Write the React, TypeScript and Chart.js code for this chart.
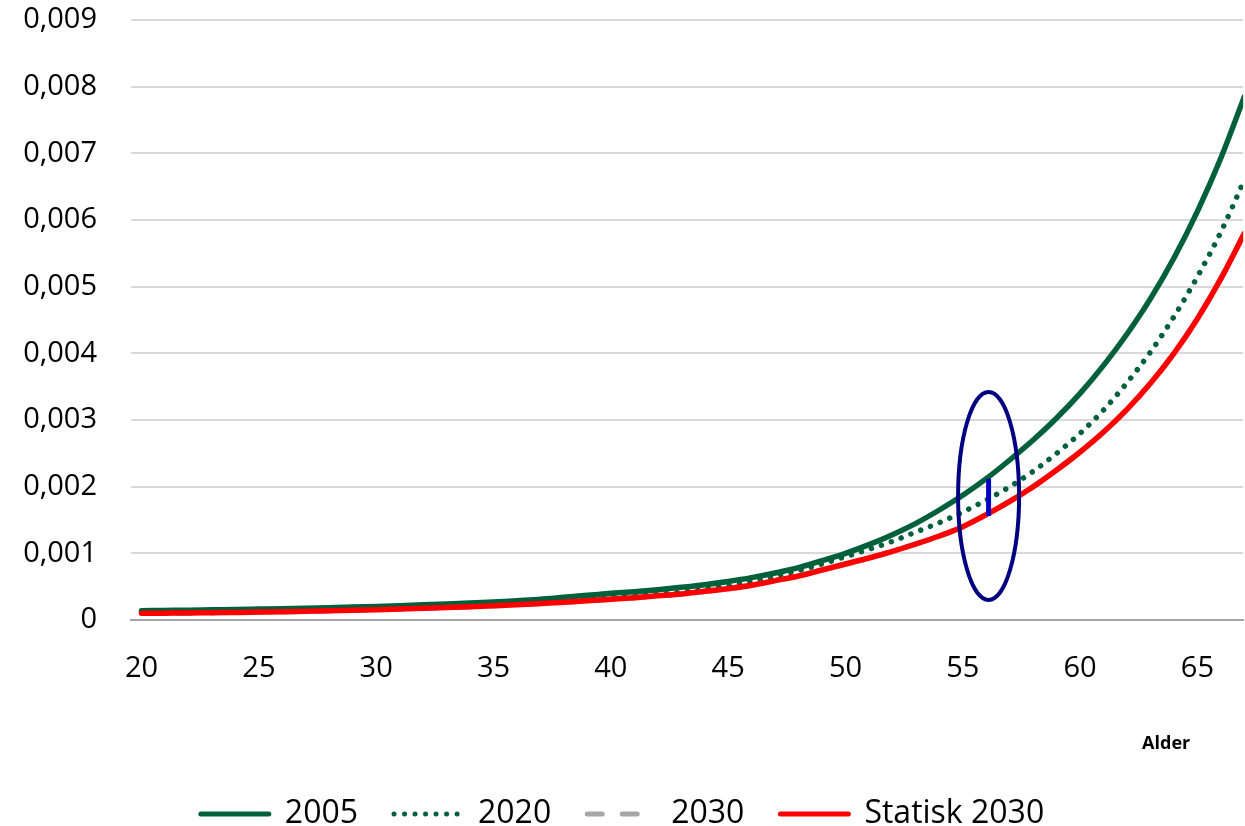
import React, { useEffect, useRef } from 'react';
import { Chart, registerables } from 'chart.js';

Chart.register(...registerables);

// ---------- data ----------
const ages = [
  20, 21, 22, 23, 24, 25, 26, 27, 28, 29,
  30, 31, 32, 33, 34, 35, 36, 37, 38, 39,
  40, 41, 42, 43, 44, 45, 46, 47, 48, 49,
  50, 51, 52, 53, 54, 55, 56, 57, 58, 59,
  60, 61, 62, 63, 64, 65, 66, 67,
];

const series2005 = [
  0.00014, 0.000144, 0.000148, 0.000153, 0.000158, 0.000164, 0.00017, 0.000177, 0.000185, 0.000194,
  0.000204, 0.000215, 0.000227, 0.00024, 0.000254, 0.00027, 0.00029, 0.00031, 0.00034, 0.00037,
  0.0004, 0.000425, 0.000455, 0.00049, 0.00053, 0.000578, 0.000635, 0.000705, 0.000785, 0.00089,
  0.001, 0.00113, 0.00128, 0.00145, 0.00165, 0.00187, 0.00212, 0.0024, 0.0027, 0.00303,
  0.0034, 0.00382, 0.00429, 0.00482, 0.00543, 0.00613, 0.00693, 0.00785,
];

const series2020 = [
  0.00012, 0.000125, 0.00013, 0.000135, 0.00014, 0.000146, 0.000152, 0.000159, 0.000166, 0.000174,
  0.000183, 0.000193, 0.000204, 0.000216, 0.000229, 0.000243, 0.00026, 0.00028, 0.0003, 0.00032,
  0.00034, 0.000365, 0.00039, 0.00042, 0.000465, 0.00052, 0.00058, 0.00066, 0.00074, 0.00084,
  0.00095, 0.00106, 0.00118, 0.00132, 0.00146, 0.00162, 0.0018, 0.002, 0.00223, 0.0025,
  0.0028, 0.00315, 0.00356, 0.00402, 0.00455, 0.00515, 0.00582, 0.0066,
];

const series2030 = [
  0.0001, 0.000103, 0.000106, 0.00011, 0.000114, 0.000119, 0.000124, 0.00013, 0.000137, 0.000145,
  0.000154, 0.000164, 0.000175, 0.000187, 0.0002, 0.000214, 0.00023, 0.000247, 0.000266, 0.000287,
  0.00031, 0.000335, 0.000362, 0.00039, 0.00043, 0.00047, 0.00052, 0.00059, 0.00066, 0.00075,
  0.00084, 0.00093, 0.00103, 0.00114, 0.00126, 0.0014, 0.00158, 0.00178, 0.002, 0.00225,
  0.00252, 0.00282, 0.00316, 0.00355, 0.004, 0.00452, 0.00512, 0.0058,
];

const seriesStatisk2030 = [
  0.0001, 0.000103, 0.000106, 0.00011, 0.000114, 0.000119, 0.000124, 0.00013, 0.000137, 0.000145,
  0.000154, 0.000164, 0.000175, 0.000187, 0.0002, 0.000214, 0.00023, 0.000247, 0.000266, 0.000287,
  0.00031, 0.000335, 0.000362, 0.00039, 0.00043, 0.00047, 0.00052, 0.00059, 0.00066, 0.00075,
  0.00084, 0.00093, 0.00103, 0.00114, 0.00126, 0.0014, 0.00158, 0.00178, 0.002, 0.00225,
  0.00252, 0.00282, 0.00316, 0.00355, 0.004, 0.00452, 0.00512, 0.0058,
];

const seriesLabels = ['2005', '2020', '2030', 'Statisk 2030'];
const xTickValues = [20, 25, 30, 35, 40, 45, 50, 55, 60, 65];
const yTickValues = [0, 0.001, 0.002, 0.003, 0.004, 0.005, 0.006, 0.007, 0.008, 0.009];
const xAxisTitle = 'Alder';

// highlighted region (ellipse + marker bar), in data units
const highlightAge = [56.1];
const highlightCenter = [0.00186];
const highlightHalfWidth = [1.3];
const highlightHalfHeight = [0.00156];
const markerRange = [0.00156, 0.00212];

// ---------- styling ----------
const FONT = "'Open Sans', 'Noto Sans', sans-serif";
const GREEN = '#00603c';
const RED = '#ff0000';
const GRAY = '#a6a6a6';

const toXY = (vals: number[]) => ages.map((a, i) => ({ x: a, y: vals[i] }));

const highlightPlugin = {
  id: 'highlight',
  afterDatasetsDraw(chart: any) {
    const { ctx, scales } = chart;
    const xs = scales.x;
    const ys = scales.y;
    const cx = xs.getPixelForValue(highlightAge[0]);
    const cy = ys.getPixelForValue(highlightCenter[0]);
    const rx = Math.abs(xs.getPixelForValue(highlightAge[0] + highlightHalfWidth[0]) - cx);
    const ry = Math.abs(ys.getPixelForValue(highlightCenter[0] + highlightHalfHeight[0]) - cy);
    ctx.save();
    ctx.beginPath();
    ctx.ellipse(cx, cy, rx, ry, 0, 0, Math.PI * 2);
    ctx.strokeStyle = '#000080';
    ctx.lineWidth = 4;
    ctx.stroke();
    ctx.beginPath();
    ctx.moveTo(cx, ys.getPixelForValue(markerRange[0]));
    ctx.lineTo(cx, ys.getPixelForValue(markerRange[1]));
    ctx.strokeStyle = '#0000c0';
    ctx.lineWidth = 5;
    ctx.lineCap = 'butt';
    ctx.stroke();
    ctx.restore();
  },
};

const axisTitlePlugin = {
  id: 'axisTitle',
  afterDraw(chart: any) {
    const { ctx, chartArea } = chart;
    ctx.save();
    ctx.font = `bold 18px ${FONT}`;
    ctx.fillStyle = '#000000';
    ctx.textAlign = 'center';
    ctx.textBaseline = 'middle';
    ctx.fillText(xAxisTitle, chartArea.right - 77, chartArea.bottom + 124);
    ctx.restore();
  },
};

export default function App() {
  const canvasRef = useRef<HTMLCanvasElement | null>(null);

  useEffect(() => {
    const canvas = canvasRef.current;
    if (!canvas) return;
    const lineCommon = {
      borderWidth: 5.5,
      borderCapStyle: 'round',
      pointRadius: 0,
      cubicInterpolationMode: 'monotone',
    };
    const chart = new Chart(canvas, {
      type: 'line',
      data: {
        datasets: [
          {
            ...lineCommon,
            label: seriesLabels[0],
            data: toXY(series2005),
            borderColor: GREEN,
            backgroundColor: GREEN,
            order: 2,
          },
          {
            ...lineCommon,
            label: seriesLabels[1],
            data: toXY(series2020),
            borderColor: GREEN,
            backgroundColor: GREEN,
            borderDash: [0.01, 10.5],
            order: 1,
          },
          {
            ...lineCommon,
            label: seriesLabels[2],
            data: toXY(series2030),
            borderColor: GRAY,
            backgroundColor: GRAY,
            borderDash: [15, 20],
            order: 3,
          },
          {
            ...lineCommon,
            label: seriesLabels[3],
            data: toXY(seriesStatisk2030),
            borderColor: RED,
            backgroundColor: RED,
            order: 0,
          },
        ],
      },
      options: {
        animation: false,
        responsive: false,
        maintainAspectRatio: false,
        layout: { padding: { top: 20, bottom: -14, left: 0, right: 0 } },
        plugins: {
          legend: {
            position: 'bottom',
            labels: {
              usePointStyle: true,
              pointStyle: 'line',
              pointStyleWidth: 68,
              padding: 36,
              color: '#000000',
              font: { family: FONT, size: 32 },
              sort: (a: any, b: any) => a.datasetIndex - b.datasetIndex,
              generateLabels: (ch: any) => {
                const items = (Chart as any).defaults.plugins.legend.labels.generateLabels(ch);
                return items.map((it: any) => {
                  const ds = ch.data.datasets[it.datasetIndex];
                  return {
                    ...it,
                    strokeStyle: ds.borderColor,
                    fillStyle: ds.borderColor,
                    lineWidth: 5,
                    lineCap: 'round',
                    lineDash: ds.borderDash || [],
                    pointStyle: 'line',
                  };
                });
              },
            },
          },
          tooltip: { enabled: false },
        },
        scales: {
          x: {
            type: 'linear',
            min: 19.55,
            max: 66.95,
            afterBuildTicks: (scale: any) => {
              scale.ticks = xTickValues.map((v) => ({ value: v }));
            },
            afterFit: (scale: any) => {
              scale.height = 142;
            },
            grid: { display: false, drawTicks: false },
            border: { display: true, color: GRAY, width: 2 },
            ticks: {
              padding: 31,
              color: '#000000',
              font: { family: FONT, size: 29 },
              maxRotation: 0,
              autoSkip: false,
              callback: (v: any) => String(v),
            },
          },
          y: {
            min: 0,
            max: 0.009,
            afterBuildTicks: (scale: any) => {
              scale.ticks = yTickValues.map((v) => ({ value: v }));
            },
            afterFit: (scale: any) => {
              scale.width = 131;
              scale.paddingTop = 0;
              scale.paddingBottom = 0;
            },
            grid: {
              drawTicks: false,
              lineWidth: 2,
              color: (c: any) => (c.tick && c.tick.value === 0 ? 'rgba(0,0,0,0)' : '#d9d9d9'),
            },
            border: { display: false },
            ticks: {
              padding: 34,
              color: '#000000',
              font: { family: FONT, size: 29 },
              callback: (v: any) => (v === 0 ? '0' : Number(v).toFixed(3).replace('.', ',')),
            },
          },
        },
      },
      plugins: [highlightPlugin, axisTitlePlugin],
    } as any);
    return () => chart.destroy();
  }, []);

  return (
    <div style={{ position: 'fixed', left: 0, top: 0, width: 1245, height: 826, background: '#ffffff' }}>
      <canvas ref={canvasRef} width={1245} height={826} style={{ display: 'block' }} />
    </div>
  );
}
